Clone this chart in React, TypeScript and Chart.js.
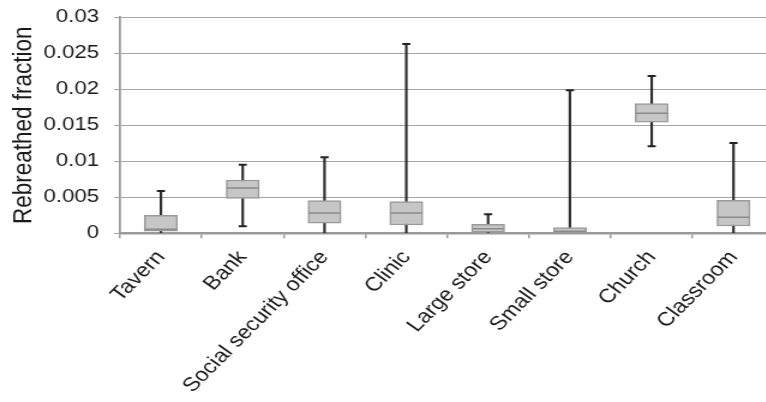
import React, { useEffect, useRef } from 'react';
import { Chart, registerables } from 'chart.js';
Chart.register(...registerables);

const categories = ['Tavern', 'Bank', 'Social security office', 'Clinic', 'Large store', 'Small store', 'Church', 'Classroom'];
const whiskerMin = [0.0001, 0.00097, 0, 0, 0.00005, 0, 0.01208, 0];
const q1 = [0.0003, 0.00486, 0.00139, 0.00115, 0.00014, 0.0001, 0.01542, 0.00101];
const median = [0.00055, 0.0063, 0.00282, 0.00282, 0.00064, 0.0003, 0.01667, 0.00222];
const q3 = [0.0025, 0.0074, 0.00453, 0.00439, 0.00125, 0.00078, 0.018, 0.00458];
const whiskerMax = [0.00588, 0.00953, 0.01055, 0.0263, 0.00264, 0.01986, 0.02185, 0.01254];
const yTicks = [0, 0.005, 0.01, 0.015, 0.02, 0.025, 0.03];
const yTickLabels = ['0', '0.005', '0.01', '0.015', '0.02', '0.025', '0.03'];
const yTitle = 'Rebreathed fraction';

const STRETCH = 1.2;
const INNER_W = 660;
const H = 402;

export default function App() {
  const ref = useRef<HTMLCanvasElement | null>(null);
  useEffect(() => {
    if (!ref.current) return;
    const font = "'Liberation Sans', Arial, sans-serif";
    const chart = new Chart(ref.current, {
      type: 'bar',
      data: {
        labels: categories,
        datasets: [
          {
            type: 'bar',
            data: categories.map((_, i) => [whiskerMin[i], whiskerMax[i]]),
            backgroundColor: '#2e2e2e',
            borderWidth: 0,
            barThickness: 1.5,
            grouped: false,
            order: 5,
          } as any,
          {
            type: 'bar',
            data: categories.map((_, i) => [q1[i], q3[i]]),
            backgroundColor: '#c6c6c6',
            borderColor: '#9a9a9a',
            borderWidth: 1.5,
            borderSkipped: false,
            barThickness: 27.5,
            grouped: false,
            order: 4,
          } as any,
          {
            type: 'line',
            data: median,
            showLine: false,
            pointStyle: 'line',
            pointRadius: 13.2,
            pointBorderWidth: 1.5,
            pointBorderColor: '#8a8a8a',
            order: 1,
          } as any,
          {
            type: 'line',
            data: whiskerMax,
            showLine: false,
            pointStyle: 'line',
            pointRadius: 3.4,
            pointBorderWidth: 2,
            pointBorderColor: '#222',
            order: 1,
          } as any,
          {
            type: 'line',
            data: whiskerMin.map((v) => (v > 0.0004 ? v : null)),
            showLine: false,
            pointStyle: 'line',
            pointRadius: 3.4,
            pointBorderWidth: 2,
            pointBorderColor: '#222',
            order: 1,
          } as any,
        ],
      },
      options: {
        responsive: false,
        animation: false,
        events: [],
        layout: { padding: { left: 0, right: INNER_W - 777 / STRETCH, top: 17.3, bottom: 0 } },
        plugins: { legend: { display: false }, tooltip: { enabled: false } },
        scales: {
          x: {
            offset: true,
            grid: { display: true, drawOnChartArea: false, drawTicks: true, tickLength: 5, color: '#9a9a9a', lineWidth: 1.5, offset: true },
            border: { display: true, color: '#9a9a9a', width: 2.5 },
            ticks: { autoSkip: false, maxRotation: 50, minRotation: 50, padding: 8, color: '#1a1a1a', font: { family: font, size: 19.5 } },
            afterFit: (s: any) => { s.height = H - 233.3; },
          },
          y: {
            min: 0,
            max: 0.03,
            afterBuildTicks: (s: any) => { s.ticks = yTicks.map((v) => ({ value: v })); },
            grid: { color: '#a6a6a6', lineWidth: 1, tickLength: 5, drawTicks: true },
            border: { display: true, color: '#9a9a9a', width: 1.8 },
            ticks: {
              padding: 12.5,
              color: '#1a1a1a',
              font: { family: font, size: 18.5 },
              callback: (v: any) => { const i = yTicks.findIndex((t) => Math.abs(t - v) < 1e-9); return i >= 0 ? yTickLabels[i] : ''; },
            },
            title: { display: true, text: yTitle, color: '#1a1a1a', font: { family: font, size: 22.5 }, padding: { top: 6, bottom: 0 } },
            afterFit: (s: any) => { s.width = 120 / STRETCH; s.paddingTop = 0; s.paddingBottom = 0; },
          },
        },
      },
    });
    return () => chart.destroy();
  }, []);
  return (
    <div style={{ position: 'fixed', left: 0, top: 0, width: 766, height: H, overflow: 'hidden', background: '#fff' }}>
      <canvas ref={ref} width={INNER_W} height={H} style={{ width: INNER_W * STRETCH, height: H, display: 'block' }} />
    </div>
  );
}
